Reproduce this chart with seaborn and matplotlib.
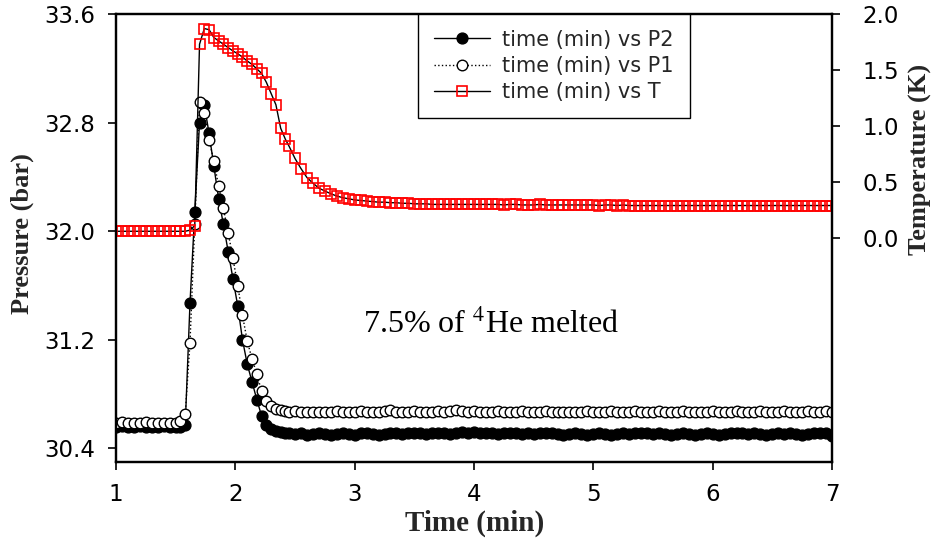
import matplotlib
matplotlib.use("Agg")
import matplotlib.pyplot as plt
import seaborn as sns
import numpy as np

# ---------------- data ----------------
time_min = [
    1.00, 1.05, 1.10, 1.15, 1.20, 1.25, 1.30, 1.35, 1.40, 1.45, 1.50,
    1.54, 1.58, 1.62, 1.66, 1.70, 1.74, 1.78, 1.82, 1.86, 1.90, 1.94, 1.98,
    2.02, 2.06, 2.10, 2.14, 2.18, 2.22, 2.26, 2.30, 2.34, 2.38, 2.42,
    2.45, 2.50, 2.55, 2.60, 2.65, 2.70, 2.75, 2.80, 2.85, 2.90,
    2.95, 3.00, 3.05, 3.10, 3.15, 3.20, 3.25, 3.30, 3.35, 3.40,
    3.45, 3.50, 3.55, 3.60, 3.65, 3.70, 3.75, 3.80, 3.85, 3.90,
    3.95, 4.00, 4.05, 4.10, 4.15, 4.20, 4.25, 4.30, 4.35, 4.40,
    4.45, 4.50, 4.55, 4.60, 4.65, 4.70, 4.75, 4.80, 4.85, 4.90,
    4.95, 5.00, 5.05, 5.10, 5.15, 5.20, 5.25, 5.30, 5.35, 5.40,
    5.45, 5.50, 5.55, 5.60, 5.65, 5.70, 5.75, 5.80, 5.85, 5.90,
    5.95, 6.00, 6.05, 6.10, 6.15, 6.20, 6.25, 6.30, 6.35, 6.40,
    6.45, 6.50, 6.55, 6.60, 6.65, 6.70, 6.75, 6.80, 6.85, 6.90,
    6.95, 7.00,
]

p2_bar = [
    30.56, 30.565, 30.555, 30.56, 30.565, 30.56, 30.555, 30.56, 30.565, 30.56, 30.56,
    30.56, 30.57, 31.47, 32.14, 32.80, 32.93, 32.72, 32.48, 32.24, 32.05, 31.85, 31.65,
    31.45, 31.20, 31.02, 30.89, 30.76, 30.64, 30.57, 30.54, 30.53, 30.52, 30.515,
    30.51, 30.505, 30.51, 30.50, 30.505, 30.51, 30.505, 30.50, 30.505, 30.51,
    30.505, 30.50, 30.51, 30.515, 30.505, 30.50, 30.505, 30.515, 30.51, 30.505,
    30.51, 30.515, 30.51, 30.505, 30.51, 30.515, 30.51, 30.505, 30.51, 30.52,
    30.515, 30.52, 30.51, 30.515, 30.51, 30.505, 30.51, 30.515, 30.51, 30.505,
    30.51, 30.505, 30.51, 30.515, 30.51, 30.505, 30.50, 30.505, 30.51, 30.505,
    30.50, 30.505, 30.51, 30.505, 30.50, 30.505, 30.51, 30.505, 30.51, 30.515,
    30.51, 30.505, 30.51, 30.505, 30.50, 30.505, 30.51, 30.505, 30.50, 30.505,
    30.51, 30.505, 30.50, 30.505, 30.51, 30.515, 30.51, 30.505, 30.51, 30.505,
    30.50, 30.505, 30.51, 30.505, 30.51, 30.505, 30.50, 30.505, 30.51, 30.515,
    30.51, 30.495,
]

p1_bar = [
    30.59, 30.595, 30.59, 30.585, 30.59, 30.595, 30.59, 30.59, 30.585, 30.59, 30.59,
    30.60, 30.65, 31.18, 32.05, 32.95, 32.87, 32.67, 32.52, 32.33, 32.17, 31.99, 31.80,
    31.60, 31.38, 31.19, 31.06, 30.95, 30.82, 30.75, 30.71, 30.69, 30.68, 30.675,
    30.67, 30.675, 30.67, 30.665, 30.67, 30.67, 30.665, 30.67, 30.675, 30.67,
    30.665, 30.67, 30.675, 30.67, 30.665, 30.67, 30.675, 30.68, 30.67, 30.665,
    30.67, 30.675, 30.67, 30.665, 30.67, 30.675, 30.67, 30.675, 30.68, 30.675,
    30.67, 30.675, 30.67, 30.665, 30.67, 30.675, 30.67, 30.665, 30.67, 30.675,
    30.67, 30.665, 30.67, 30.675, 30.67, 30.665, 30.67, 30.67, 30.665, 30.67,
    30.675, 30.67, 30.665, 30.67, 30.675, 30.67, 30.665, 30.67, 30.675, 30.67,
    30.665, 30.67, 30.675, 30.67, 30.665, 30.67, 30.675, 30.67, 30.665, 30.67,
    30.67, 30.675, 30.67, 30.665, 30.67, 30.675, 30.67, 30.665, 30.67, 30.675,
    30.67, 30.665, 30.67, 30.675, 30.67, 30.665, 30.67, 30.675, 30.67, 30.67,
    30.675, 30.67,
]

temp_K = [
    0.06, 0.06, 0.06, 0.06, 0.06, 0.06, 0.06, 0.06, 0.06, 0.06, 0.06,
    0.06, 0.06, 0.07, 0.11, 1.73, 1.87, 1.86, 1.79, 1.76, 1.73, 1.70, 1.67,
    1.645, 1.615, 1.58, 1.55, 1.51, 1.47, 1.39, 1.29, 1.19, 0.98, 0.88,
    0.82, 0.71, 0.62, 0.54, 0.49, 0.445, 0.42, 0.395, 0.375, 0.36,
    0.35, 0.34, 0.335, 0.33, 0.325, 0.32, 0.32, 0.315, 0.315, 0.31,
    0.31, 0.305, 0.305, 0.305, 0.30, 0.30, 0.30, 0.30, 0.30, 0.30,
    0.30, 0.30, 0.30, 0.30, 0.30, 0.30, 0.295, 0.30, 0.30, 0.295,
    0.295, 0.295, 0.30, 0.295, 0.295, 0.295, 0.295, 0.295, 0.295, 0.295,
    0.295, 0.295, 0.29, 0.295, 0.295, 0.29, 0.295, 0.29, 0.29, 0.29,
    0.29, 0.29, 0.29, 0.29, 0.29, 0.29, 0.29, 0.29, 0.29, 0.29,
    0.29, 0.29, 0.29, 0.29, 0.29, 0.29, 0.29, 0.29, 0.29, 0.29,
    0.29, 0.29, 0.29, 0.29, 0.29, 0.29, 0.29, 0.29, 0.29, 0.29,
    0.29, 0.29,
]

x_ticks = [1, 2, 3, 4, 5, 6, 7]
p_ticks = [30.4, 31.2, 32.0, 32.8, 33.6]
t_ticks = [0.0, 0.5, 1.0, 1.5, 2.0]
labels = ["time (min) vs P2", "time (min) vs P1", "time (min) vs T"]

# ---------------- style ----------------
sns.set_style("white")
plt.rcParams["font.family"] = ["DejaVu Sans"]
plt.rcParams["mathtext.fontset"] = "stix"
SERIF = ["Liberation Serif", "DejaVu Serif"]

fig = plt.figure(figsize=(9.31, 5.42), dpi=100)
ax = fig.add_axes([116 / 931, 80 / 542, 716 / 931, 448 / 542])
ax2 = ax.twinx()

sns.lineplot(x=time_min, y=p2_bar, ax=ax, sort=False, estimator=None,
             color="black", linewidth=1.0, marker="o", markersize=7.8,
             markerfacecolor="black", markeredgecolor="black",
             markeredgewidth=1.0, legend=False)
line_p2 = ax.lines[-1]
sns.lineplot(x=time_min, y=p1_bar, ax=ax, sort=False, estimator=None,
             color="black", linewidth=1.0, linestyle=":", marker="o",
             markersize=7.6, markerfacecolor="white",
             markeredgecolor="black", markeredgewidth=1.0, legend=False)
line_p1 = ax.lines[-1]
sns.lineplot(x=time_min, y=temp_K, ax=ax2, sort=False, estimator=None,
             color="black", linewidth=1.0, marker="s", markersize=6.6,
             markerfacecolor="none", markeredgecolor="red",
             markeredgewidth=1.2, legend=False)
line_t = ax2.lines[-1]

ax.set_xlim(1, 7)
ax.set_ylim(30.3, 33.6)
ax2.set_ylim(-2.0, 2.0)
ax.set_xticks(x_ticks)
ax.set_xticklabels([str(v) for v in x_ticks])
ax.set_yticks(p_ticks)
ax.set_yticklabels([f"{v:.1f}" for v in p_ticks])
ax2.set_yticks(t_ticks)
ax2.set_yticklabels([f"{v:.1f}" for v in t_ticks])

for a in (ax, ax2):
    for s in a.spines.values():
        s.set_visible(True)
        s.set_linewidth(1.6)
        s.set_color("black")

ax.tick_params(axis="x", direction="out", length=6, width=1.2, pad=9,
               labelsize=16.5, colors="black", bottom=True)
ax.tick_params(axis="y", direction="out", length=6, width=1.2, pad=9,
               labelsize=16.5, colors="black", left=True)
ax2.tick_params(axis="y", direction="out", length=6, width=1.2, pad=16,
                labelsize=16.5, colors="black", right=True)

ax.set_xlabel("Time (min)", fontfamily=SERIF, fontweight="bold", fontsize=21)
ax.set_ylabel("Pressure (bar)", fontfamily=SERIF, fontweight="bold", fontsize=19)
ax2.set_ylabel("Temperature (K)", fontfamily=SERIF, fontweight="bold", fontsize=19)
for lab in (ax.xaxis.label, ax.yaxis.label, ax2.yaxis.label):
    lab.set_va("center")
    lab.set_ha("center")
ax.xaxis.set_label_coords(0.501, -0.138)
ax.yaxis.set_label_coords(-0.1306, 0.511)
ax2.yaxis.set_label_coords(1.123, 0.676)

ax.text(3.07, 31.25, r"7.5% of $^{4}$He melted", fontfamily=SERIF,
        fontsize=23, ha="left", va="baseline", color="black")

leg = ax2.legend([line_p2, line_p1, line_t], labels, loc="upper left",
                 bbox_to_anchor=(0.4218, 1.0), borderaxespad=0,
                 frameon=True, fancybox=False, shadow=False,
                 edgecolor="black", facecolor="white", framealpha=1,
                 fontsize=15, handlelength=2.7, handletextpad=0.6,
                 borderpad=0.75, labelspacing=0.3)
leg.get_frame().set_linewidth(1.0)

fig.savefig("out.png", dpi=100)
